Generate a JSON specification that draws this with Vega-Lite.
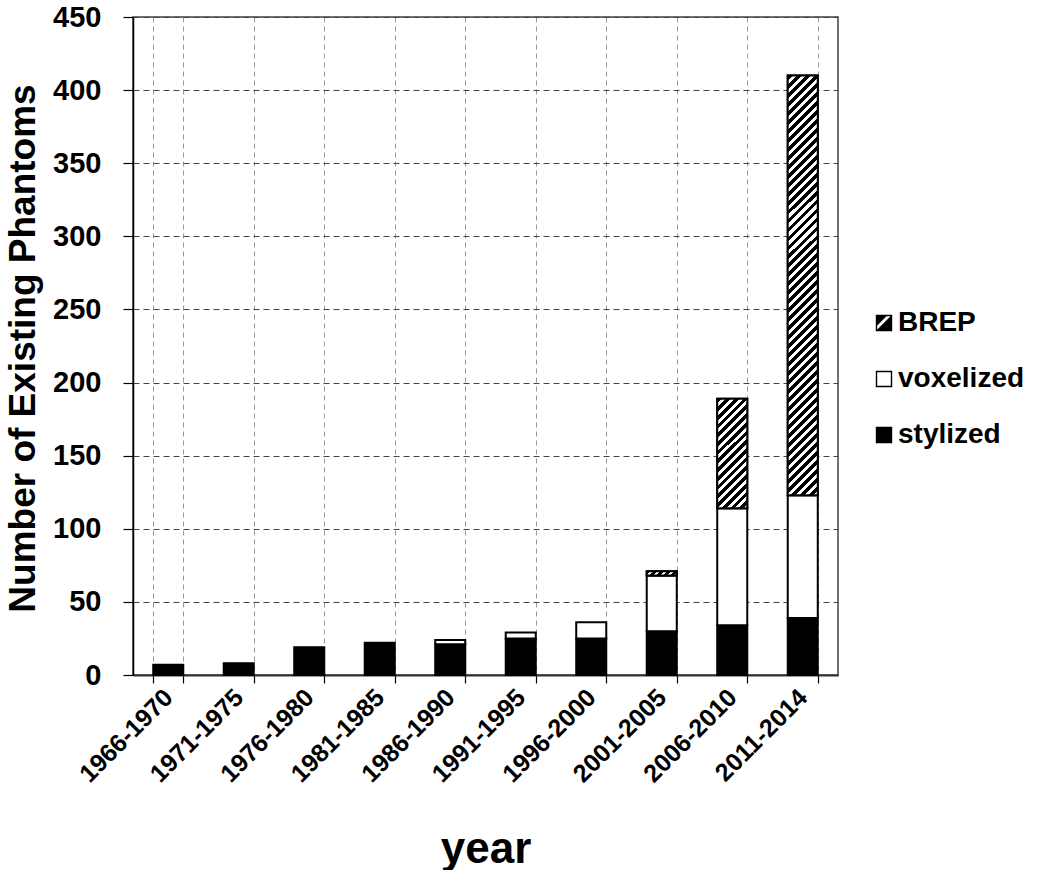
{
  "$schema": "https://vega.github.io/schema/vega-lite/v6.json",
  "width": 705,
  "height": 658,
  "autosize": {"type": "none"},
  "padding": {"left": 133, "top": 17, "right": 212, "bottom": 195},
  "background": "white",
  "config": {"font": "Liberation Sans", "view": {"stroke": "#404040", "strokeWidth": 1.5}},
  "data": {"values": [
    {"year": "1966-1970", "type": "stylized", "n": 7},
    {"year": "1971-1975", "type": "stylized", "n": 8},
    {"year": "1976-1980", "type": "stylized", "n": 19},
    {"year": "1981-1985", "type": "stylized", "n": 22},
    {"year": "1986-1990", "type": "stylized", "n": 21},
    {"year": "1986-1990", "type": "voxelized", "n": 3},
    {"year": "1991-1995", "type": "stylized", "n": 25},
    {"year": "1991-1995", "type": "voxelized", "n": 4},
    {"year": "1996-2000", "type": "stylized", "n": 25},
    {"year": "1996-2000", "type": "voxelized", "n": 11},
    {"year": "2001-2005", "type": "stylized", "n": 30},
    {"year": "2001-2005", "type": "voxelized", "n": 38},
    {"year": "2001-2005", "type": "BREP", "n": 3},
    {"year": "2006-2010", "type": "stylized", "n": 34},
    {"year": "2006-2010", "type": "voxelized", "n": 80},
    {"year": "2006-2010", "type": "BREP", "n": 75},
    {"year": "2011-2014", "type": "stylized", "n": 39},
    {"year": "2011-2014", "type": "voxelized", "n": 84},
    {"year": "2011-2014", "type": "BREP", "n": 287}
  ]},
  "transform": [{"stack": "n", "groupby": ["year"], "as": ["lo", "hi"]}],
  "encoding": {
    "x": {
      "field": "year", "type": "nominal", "sort": null,
      "scale": {"paddingInner": 0.574, "paddingOuter": 0.287},
      "axis": {
        "title": "year", "labelAngle": -45, "labelAlign": "right", "labelBaseline": "middle",
        "labelFontSize": 25, "labelFontWeight": "bold", "labelColor": "#000", "labelPadding": 10,
        "tickBand": "extent", "tickSize": 8, "tickColor": "#000", "tickWidth": 1.2,
        "grid": true, "gridDash": [5, 4], "gridColor": "#999", "gridWidth": 1,
        "domainColor": "#333", "domainWidth": 2,
        "titleFontSize": 44, "titleFontWeight": "bold", "titleColor": "#000",
        "titleX": 352.5, "titleY": 187, "titleBaseline": "alphabetic", "titleAlign": "center"
      }
    },
    "y": {
      "field": "lo", "type": "quantitative",
      "scale": {"domain": [0, 450], "nice": false},
      "axis": {
        "title": "Number of Existing Phantoms",
        "values": [0, 50, 100, 150, 200, 250, 300, 350, 400, 450],
        "grid": true, "gridDash": [6, 4], "gridColor": "#444", "gridWidth": 1,
        "tickSize": 10, "tickColor": "#000", "tickWidth": 1.2,
        "domainColor": "#000", "domainWidth": 1.5,
        "labelFontSize": 29, "labelFontWeight": "bold", "labelColor": "#000", "labelPadding": 22,
        "titleFontSize": 37, "titleFontWeight": "bold", "titleColor": "#000",
        "titleX": -99, "titleY": 331, "titleAngle": -90, "titleAlign": "center", "titleBaseline": "alphabetic"
      }
    }
  },
  "layer": [
    {
      "mark": {"type": "point", "filled": true, "clip": true, "opacity": 1, "strokeWidth": 1.4},
      "encoding": {
        "color": {
          "field": "type", "type": "nominal",
          "scale": {"domain": ["BREP", "voxelized", "stylized"], "range": ["#000", "#fff", "#000"]},
          "legend": {
            "title": null, "orient": "none", "legendX": 737, "legendY": 292,
            "symbolSize": 225, "symbolStrokeWidth": 1.4, "symbolOpacity": 1,
            "labelFont": "Liberation Sans", "labelFontSize": 28, "labelFontWeight": "bold", "labelColor": "#000",
            "labelOffset": 0, "rowPadding": 28, "padding": 0
          }
        },
        "stroke": {
          "field": "type", "type": "nominal",
          "scale": {"domain": ["BREP", "voxelized", "stylized"], "range": ["#000", "#000", "#000"]},
          "legend": {
            "title": null, "orient": "none", "legendX": 737, "legendY": 292,
            "symbolSize": 225, "symbolStrokeWidth": 1.4, "symbolOpacity": 1,
            "labelFont": "Liberation Sans", "labelFontSize": 28, "labelFontWeight": "bold", "labelColor": "#000",
            "labelOffset": 0, "rowPadding": 28, "padding": 0
          }
        },
        "shape": {
          "field": "type", "type": "nominal",
          "scale": {"domain": ["BREP", "voxelized", "stylized"], "range": ["M-1,-1L1,-1L1,1L-1,1ZM-1,0.3L-1,1L-0.9,1L1,-0.9L1,-1L0.3,-1Z", "square", "square"]},
          "legend": {
            "title": null, "orient": "none", "legendX": 737, "legendY": 292,
            "symbolSize": 225, "symbolStrokeWidth": 1.4, "symbolOpacity": 1,
            "labelFont": "Liberation Sans", "labelFontSize": 28, "labelFontWeight": "bold", "labelColor": "#000",
            "labelOffset": 0, "rowPadding": 28, "padding": 0
          }
        }
      }
    },
    {
      "mark": {"type": "bar", "stroke": "#000", "strokeWidth": 2},
      "encoding": {
        "y2": {"field": "hi"},
        "fill": {
          "field": "type", "type": "nominal",
          "scale": {"domain": ["BREP", "voxelized", "stylized"], "range": ["#000", "#fff", "#000"]},
          "legend": null
        }
      }
    },
    {
      "transform": [{"filter": "datum.type === 'BREP' && datum.year === '2001-2005'"}],
      "mark": {"type": "bar", "stroke": "#000", "strokeWidth": 2, "fill": {"gradient": "linear", "x1": 0, "y1": 0, "x2": 1.1227, "y2": 0.165, "stops": [
        {"offset": 0, "color": "#000"}, {"offset": 0.11, "color": "#000"}, {"offset": 0.11, "color": "#fff"}, {"offset": 0.2, "color": "#fff"},
        {"offset": 0.2, "color": "#000"}, {"offset": 0.31, "color": "#000"}, {"offset": 0.31, "color": "#fff"}, {"offset": 0.4, "color": "#fff"},
        {"offset": 0.4, "color": "#000"}, {"offset": 0.51, "color": "#000"}, {"offset": 0.51, "color": "#fff"}, {"offset": 0.6, "color": "#fff"},
        {"offset": 0.6, "color": "#000"}, {"offset": 0.71, "color": "#000"}, {"offset": 0.71, "color": "#fff"}, {"offset": 0.8, "color": "#fff"},
        {"offset": 0.8, "color": "#000"}, {"offset": 0.91, "color": "#000"}, {"offset": 0.91, "color": "#fff"}, {"offset": 1, "color": "#fff"}
      ]}},
      "encoding": {"y2": {"field": "hi"}}
    },
    {
      "transform": [{"filter": "datum.type === 'BREP' && datum.year === '2006-2010'"}],
      "mark": {"type": "bar", "stroke": "#000", "strokeWidth": 2, "fill": {"gradient": "linear", "x1": 0, "y1": 0, "x2": 0.3234, "y2": 1.1846, "stops": [
        {"offset": 0, "color": "#000"}, {"offset": 0.034, "color": "#000"}, {"offset": 0.034, "color": "#fff"}, {"offset": 0.0625, "color": "#fff"},
        {"offset": 0.0625, "color": "#000"}, {"offset": 0.0965, "color": "#000"}, {"offset": 0.0965, "color": "#fff"}, {"offset": 0.125, "color": "#fff"},
        {"offset": 0.125, "color": "#000"}, {"offset": 0.159, "color": "#000"}, {"offset": 0.159, "color": "#fff"}, {"offset": 0.1875, "color": "#fff"},
        {"offset": 0.1875, "color": "#000"}, {"offset": 0.2215, "color": "#000"}, {"offset": 0.2215, "color": "#fff"}, {"offset": 0.25, "color": "#fff"},
        {"offset": 0.25, "color": "#000"}, {"offset": 0.284, "color": "#000"}, {"offset": 0.284, "color": "#fff"}, {"offset": 0.3125, "color": "#fff"},
        {"offset": 0.3125, "color": "#000"}, {"offset": 0.3465, "color": "#000"}, {"offset": 0.3465, "color": "#fff"}, {"offset": 0.375, "color": "#fff"},
        {"offset": 0.375, "color": "#000"}, {"offset": 0.409, "color": "#000"}, {"offset": 0.409, "color": "#fff"}, {"offset": 0.4375, "color": "#fff"},
        {"offset": 0.4375, "color": "#000"}, {"offset": 0.4715, "color": "#000"}, {"offset": 0.4715, "color": "#fff"}, {"offset": 0.5, "color": "#fff"},
        {"offset": 0.5, "color": "#000"}, {"offset": 0.534, "color": "#000"}, {"offset": 0.534, "color": "#fff"}, {"offset": 0.5625, "color": "#fff"},
        {"offset": 0.5625, "color": "#000"}, {"offset": 0.5965, "color": "#000"}, {"offset": 0.5965, "color": "#fff"}, {"offset": 0.625, "color": "#fff"},
        {"offset": 0.625, "color": "#000"}, {"offset": 0.659, "color": "#000"}, {"offset": 0.659, "color": "#fff"}, {"offset": 0.6875, "color": "#fff"},
        {"offset": 0.6875, "color": "#000"}, {"offset": 0.7215, "color": "#000"}, {"offset": 0.7215, "color": "#fff"}, {"offset": 0.75, "color": "#fff"},
        {"offset": 0.75, "color": "#000"}, {"offset": 0.784, "color": "#000"}, {"offset": 0.784, "color": "#fff"}, {"offset": 0.8125, "color": "#fff"},
        {"offset": 0.8125, "color": "#000"}, {"offset": 0.8465, "color": "#000"}, {"offset": 0.8465, "color": "#fff"}, {"offset": 0.875, "color": "#fff"},
        {"offset": 0.875, "color": "#000"}, {"offset": 0.909, "color": "#000"}, {"offset": 0.909, "color": "#fff"}, {"offset": 0.9375, "color": "#fff"},
        {"offset": 0.9375, "color": "#000"}, {"offset": 0.9715, "color": "#000"}, {"offset": 0.9715, "color": "#fff"}, {"offset": 1, "color": "#fff"}
      ]}},
      "encoding": {"y2": {"field": "hi"}}
    },
    {
      "transform": [{"filter": "datum.type === 'BREP' && datum.year === '2011-2014'"}],
      "mark": {"type": "bar", "stroke": "#000", "strokeWidth": 2, "fill": {"gradient": "linear", "x1": 0, "y1": 0, "x2": 0.0762, "y2": 1.0655, "stops": [
        {"offset": 0, "color": "#000"}, {"offset": 0.011, "color": "#000"}, {"offset": 0.011, "color": "#fff"}, {"offset": 0.02, "color": "#fff"},
        {"offset": 0.02, "color": "#000"}, {"offset": 0.031, "color": "#000"}, {"offset": 0.031, "color": "#fff"}, {"offset": 0.04, "color": "#fff"},
        {"offset": 0.04, "color": "#000"}, {"offset": 0.051, "color": "#000"}, {"offset": 0.051, "color": "#fff"}, {"offset": 0.06, "color": "#fff"},
        {"offset": 0.06, "color": "#000"}, {"offset": 0.071, "color": "#000"}, {"offset": 0.071, "color": "#fff"}, {"offset": 0.08, "color": "#fff"},
        {"offset": 0.08, "color": "#000"}, {"offset": 0.091, "color": "#000"}, {"offset": 0.091, "color": "#fff"}, {"offset": 0.1, "color": "#fff"},
        {"offset": 0.1, "color": "#000"}, {"offset": 0.111, "color": "#000"}, {"offset": 0.111, "color": "#fff"}, {"offset": 0.12, "color": "#fff"},
        {"offset": 0.12, "color": "#000"}, {"offset": 0.131, "color": "#000"}, {"offset": 0.131, "color": "#fff"}, {"offset": 0.14, "color": "#fff"},
        {"offset": 0.14, "color": "#000"}, {"offset": 0.151, "color": "#000"}, {"offset": 0.151, "color": "#fff"}, {"offset": 0.16, "color": "#fff"},
        {"offset": 0.16, "color": "#000"}, {"offset": 0.171, "color": "#000"}, {"offset": 0.171, "color": "#fff"}, {"offset": 0.18, "color": "#fff"},
        {"offset": 0.18, "color": "#000"}, {"offset": 0.191, "color": "#000"}, {"offset": 0.191, "color": "#fff"}, {"offset": 0.2, "color": "#fff"},
        {"offset": 0.2, "color": "#000"}, {"offset": 0.211, "color": "#000"}, {"offset": 0.211, "color": "#fff"}, {"offset": 0.22, "color": "#fff"},
        {"offset": 0.22, "color": "#000"}, {"offset": 0.231, "color": "#000"}, {"offset": 0.231, "color": "#fff"}, {"offset": 0.24, "color": "#fff"},
        {"offset": 0.24, "color": "#000"}, {"offset": 0.251, "color": "#000"}, {"offset": 0.251, "color": "#fff"}, {"offset": 0.26, "color": "#fff"},
        {"offset": 0.26, "color": "#000"}, {"offset": 0.271, "color": "#000"}, {"offset": 0.271, "color": "#fff"}, {"offset": 0.28, "color": "#fff"},
        {"offset": 0.28, "color": "#000"}, {"offset": 0.291, "color": "#000"}, {"offset": 0.291, "color": "#fff"}, {"offset": 0.3, "color": "#fff"},
        {"offset": 0.3, "color": "#000"}, {"offset": 0.311, "color": "#000"}, {"offset": 0.311, "color": "#fff"}, {"offset": 0.32, "color": "#fff"},
        {"offset": 0.32, "color": "#000"}, {"offset": 0.331, "color": "#000"}, {"offset": 0.331, "color": "#fff"}, {"offset": 0.34, "color": "#fff"},
        {"offset": 0.34, "color": "#000"}, {"offset": 0.351, "color": "#000"}, {"offset": 0.351, "color": "#fff"}, {"offset": 0.36, "color": "#fff"},
        {"offset": 0.36, "color": "#000"}, {"offset": 0.371, "color": "#000"}, {"offset": 0.371, "color": "#fff"}, {"offset": 0.38, "color": "#fff"},
        {"offset": 0.38, "color": "#000"}, {"offset": 0.391, "color": "#000"}, {"offset": 0.391, "color": "#fff"}, {"offset": 0.4, "color": "#fff"},
        {"offset": 0.4, "color": "#000"}, {"offset": 0.411, "color": "#000"}, {"offset": 0.411, "color": "#fff"}, {"offset": 0.42, "color": "#fff"},
        {"offset": 0.42, "color": "#000"}, {"offset": 0.431, "color": "#000"}, {"offset": 0.431, "color": "#fff"}, {"offset": 0.44, "color": "#fff"},
        {"offset": 0.44, "color": "#000"}, {"offset": 0.451, "color": "#000"}, {"offset": 0.451, "color": "#fff"}, {"offset": 0.46, "color": "#fff"},
        {"offset": 0.46, "color": "#000"}, {"offset": 0.471, "color": "#000"}, {"offset": 0.471, "color": "#fff"}, {"offset": 0.48, "color": "#fff"},
        {"offset": 0.48, "color": "#000"}, {"offset": 0.491, "color": "#000"}, {"offset": 0.491, "color": "#fff"}, {"offset": 0.5, "color": "#fff"},
        {"offset": 0.5, "color": "#000"}, {"offset": 0.511, "color": "#000"}, {"offset": 0.511, "color": "#fff"}, {"offset": 0.52, "color": "#fff"},
        {"offset": 0.52, "color": "#000"}, {"offset": 0.531, "color": "#000"}, {"offset": 0.531, "color": "#fff"}, {"offset": 0.54, "color": "#fff"},
        {"offset": 0.54, "color": "#000"}, {"offset": 0.551, "color": "#000"}, {"offset": 0.551, "color": "#fff"}, {"offset": 0.56, "color": "#fff"},
        {"offset": 0.56, "color": "#000"}, {"offset": 0.571, "color": "#000"}, {"offset": 0.571, "color": "#fff"}, {"offset": 0.58, "color": "#fff"},
        {"offset": 0.58, "color": "#000"}, {"offset": 0.591, "color": "#000"}, {"offset": 0.591, "color": "#fff"}, {"offset": 0.6, "color": "#fff"},
        {"offset": 0.6, "color": "#000"}, {"offset": 0.611, "color": "#000"}, {"offset": 0.611, "color": "#fff"}, {"offset": 0.62, "color": "#fff"},
        {"offset": 0.62, "color": "#000"}, {"offset": 0.631, "color": "#000"}, {"offset": 0.631, "color": "#fff"}, {"offset": 0.64, "color": "#fff"},
        {"offset": 0.64, "color": "#000"}, {"offset": 0.651, "color": "#000"}, {"offset": 0.651, "color": "#fff"}, {"offset": 0.66, "color": "#fff"},
        {"offset": 0.66, "color": "#000"}, {"offset": 0.671, "color": "#000"}, {"offset": 0.671, "color": "#fff"}, {"offset": 0.68, "color": "#fff"},
        {"offset": 0.68, "color": "#000"}, {"offset": 0.691, "color": "#000"}, {"offset": 0.691, "color": "#fff"}, {"offset": 0.7, "color": "#fff"},
        {"offset": 0.7, "color": "#000"}, {"offset": 0.711, "color": "#000"}, {"offset": 0.711, "color": "#fff"}, {"offset": 0.72, "color": "#fff"},
        {"offset": 0.72, "color": "#000"}, {"offset": 0.731, "color": "#000"}, {"offset": 0.731, "color": "#fff"}, {"offset": 0.74, "color": "#fff"},
        {"offset": 0.74, "color": "#000"}, {"offset": 0.751, "color": "#000"}, {"offset": 0.751, "color": "#fff"}, {"offset": 0.76, "color": "#fff"},
        {"offset": 0.76, "color": "#000"}, {"offset": 0.771, "color": "#000"}, {"offset": 0.771, "color": "#fff"}, {"offset": 0.78, "color": "#fff"},
        {"offset": 0.78, "color": "#000"}, {"offset": 0.791, "color": "#000"}, {"offset": 0.791, "color": "#fff"}, {"offset": 0.8, "color": "#fff"},
        {"offset": 0.8, "color": "#000"}, {"offset": 0.811, "color": "#000"}, {"offset": 0.811, "color": "#fff"}, {"offset": 0.82, "color": "#fff"},
        {"offset": 0.82, "color": "#000"}, {"offset": 0.831, "color": "#000"}, {"offset": 0.831, "color": "#fff"}, {"offset": 0.84, "color": "#fff"},
        {"offset": 0.84, "color": "#000"}, {"offset": 0.851, "color": "#000"}, {"offset": 0.851, "color": "#fff"}, {"offset": 0.86, "color": "#fff"},
        {"offset": 0.86, "color": "#000"}, {"offset": 0.871, "color": "#000"}, {"offset": 0.871, "color": "#fff"}, {"offset": 0.88, "color": "#fff"},
        {"offset": 0.88, "color": "#000"}, {"offset": 0.891, "color": "#000"}, {"offset": 0.891, "color": "#fff"}, {"offset": 0.9, "color": "#fff"},
        {"offset": 0.9, "color": "#000"}, {"offset": 0.911, "color": "#000"}, {"offset": 0.911, "color": "#fff"}, {"offset": 0.92, "color": "#fff"},
        {"offset": 0.92, "color": "#000"}, {"offset": 0.931, "color": "#000"}, {"offset": 0.931, "color": "#fff"}, {"offset": 0.94, "color": "#fff"},
        {"offset": 0.94, "color": "#000"}, {"offset": 0.951, "color": "#000"}, {"offset": 0.951, "color": "#fff"}, {"offset": 0.96, "color": "#fff"},
        {"offset": 0.96, "color": "#000"}, {"offset": 0.971, "color": "#000"}, {"offset": 0.971, "color": "#fff"}, {"offset": 0.98, "color": "#fff"},
        {"offset": 0.98, "color": "#000"}, {"offset": 0.991, "color": "#000"}, {"offset": 0.991, "color": "#fff"}, {"offset": 1, "color": "#fff"}
      ]}},
      "encoding": {"y2": {"field": "hi"}}
    }
  ]
}
